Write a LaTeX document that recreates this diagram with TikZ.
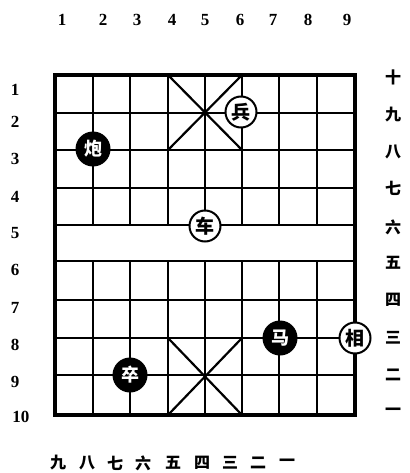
\documentclass[tikz,border=0pt]{standalone}
\usepackage{fontspec}
\setmainfont{Liberation Serif}
\newfontfamily\cjk{Noto Sans CJK SC}
\begin{document}
\begin{tikzpicture}[x=1pt,y=-1pt,
  gridline/.style={line width=2.2pt},
  border/.style={line width=3.6pt},
  num/.style={font=\bfseries\fontsize{17}{17}\selectfont, inner sep=0},
  cn/.style={font=\cjk\bfseries\fontsize{16}{16}\selectfont, inner sep=0},
  redpiece/.style={circle, draw, fill=white, line width=2pt, minimum size=31pt, inner sep=0, font=\cjk\bfseries\fontsize{19}{19}\selectfont},
  blackpiece/.style={circle, fill=black, text=white, minimum size=35pt, inner sep=0, font=\cjk\bfseries\fontsize{18}{18}\selectfont}]
\useasboundingbox (0,0) rectangle (409,473);
% horizontal lines
\foreach \y in {113,150,188,225,261,300,338,375}
  \draw[gridline] (55,\y) -- (355,\y);
% vertical lines (interrupted by the river)
\foreach \x in {93,130,168,205,242,279,317} {
  \draw[gridline] (\x,75) -- (\x,225);
  \draw[gridline] (\x,261) -- (\x,415);
}
% palaces
\draw[gridline] (168,75) -- (242,150);
\draw[gridline] (242,75) -- (168,150);
\draw[gridline] (168,338) -- (242,415);
\draw[gridline] (242,338) -- (168,415);
% border
\draw[border] (55,75) rectangle (355,415);
% top numbers
\foreach \x/\t in {62/1,103/2,137/3,172/4,205/5,240/6,273/7,308/8,347/9}
  \node[num] (top\t) at (\x,20) {\t};
% left numbers
\foreach \y/\t in {90/1,122/2,159/3,197/4,233/5,270/6,308/7,345/8,382/9}
  \node[num] (left\t) at (15,\y) {\t};
\node[num] (left10) at (21,417) {10};
% right Chinese numerals
\foreach \y/\t [count=\i] in {77/十,115/九,152/八,188/七,227/六,263/五,300/四,338/三,375/二,412/一}
  \node[cn] (right\i) at (393,\y) {\t};
% bottom Chinese numerals
\foreach \x/\t [count=\i] in {58/九,87/八,115/七,143/六,173/五,202/四,230/三,258/二,287/一}
  \node[cn] (bot\i) at (\x,463) {\t};
% pieces
\node[redpiece] (bing) at (241,112) {兵};
\node[blackpiece] (pao) at (93,149) {炮};
\node[redpiece] (che) at (205,226) {车};
\node[blackpiece] (ma) at (280,338) {马};
\node[redpiece] (xiang) at (355,338) {相};
\node[blackpiece] (zu) at (130,375) {卒};
\end{tikzpicture}
\end{document}
